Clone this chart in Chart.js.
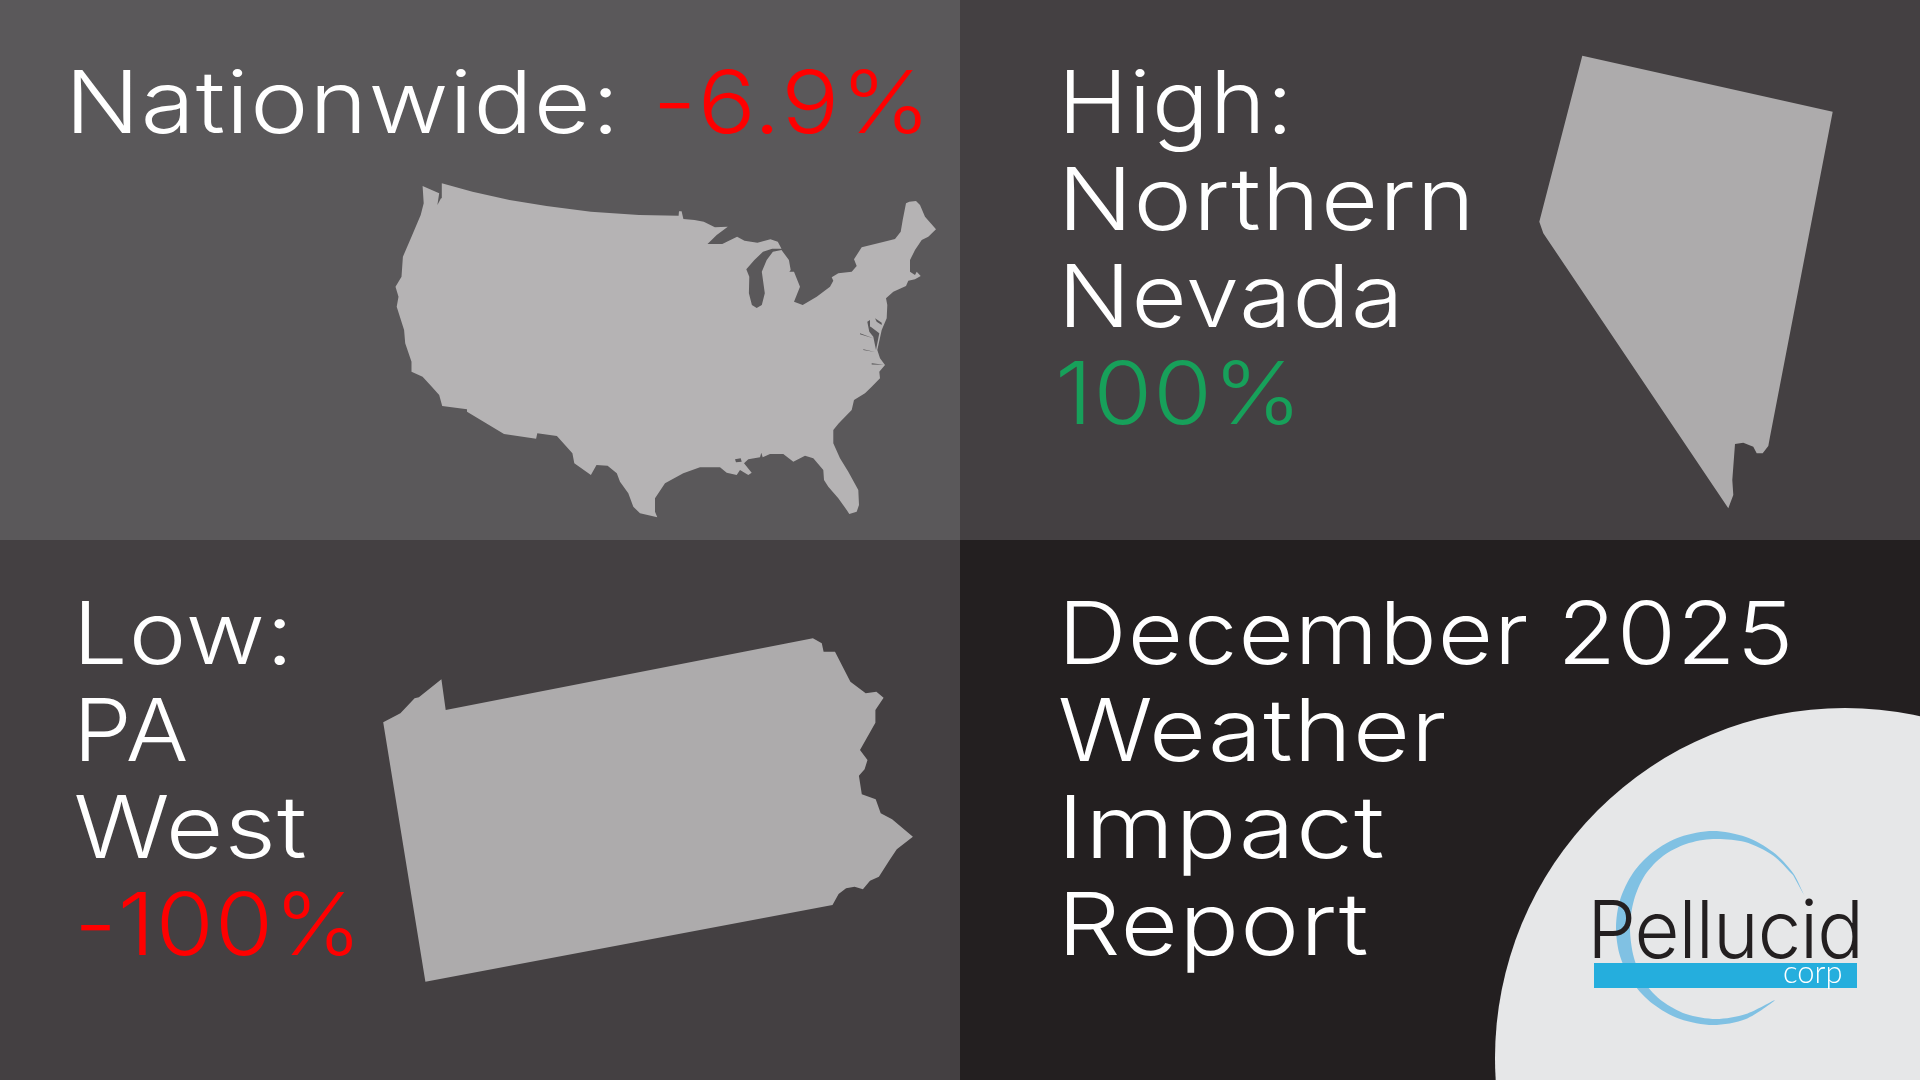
<!DOCTYPE html>
<html>
<head>
<meta charset="utf-8">
<title>December 2025 Weather Impact Report</title>
<script src="https://cdn.jsdelivr.net/npm/chart.js@4"></script>
<style>
  html, body { margin: 0; padding: 0; background: #231f20; }
  canvas { display: block; }
</style>
</head>
<body>
<canvas id="grafico" width="1920" height="1080"></canvas>
<script>
// values and texts
const nationalValue = -6.9;
const highValue = 100;
const lowValue = -100;

const nationalLabel = 'Nationwide:';
const highLabels = ['High:', 'Northern', 'Nevada'];
const lowLabels = ['Low:', 'PA', 'West'];
const titleLabels = ['December 2025', 'Weather', 'Impact', 'Report'];
const logoName = 'Pellucid';
const logoSub = 'corp';

// outlines, in the 1920x1080 units of the x and y scales
const usOutline = [
  [422.6,186],[430,189.3],[439.2,193.3],[437.4,205],[441,198.3],[441.8,183.3],[472.5,191.7],[509.5,200],
  [546.5,206],[590.9,211.7],[639,215],[678.6,215.7],[679,211.3],[681.6,211.3],[683.4,219],[694.5,220],
  [703.8,221.7],[714.9,227.3],[727.8,226.7],[716.7,235],[707.5,244],[722.3,244],[737.1,236.7],[744.5,240.7],
  [757.4,242.7],[770.4,239.3],[777.8,241.7],[781.5,248.7],[772.2,248.7],[763,251.7],[754.4,260],[746.3,269.3],
  [749.3,276.7],[748.9,293.3],[751.9,305],[756.7,308],[761.8,305],[764.8,293.3],[761.8,271.7],[766.7,260],
  [772.9,251.7],[781.5,250],[788.9,260],[790.7,270],[785,277.3],[788.3,271.7],[794,271.7],[800,286.7],
  [794,301.7],[802.7,305],[816.7,296.7],[830,286.7],[833.3,280.7],[831.7,277.3],[838.3,273.3],[851.7,271.7],
  [856.7,266],[854,259.3],[861.7,247.3],[880,242.7],[895,239],[900.7,231.7],[902.7,220],[906,203.3],
  [909.3,201.7],[916,201],[920,205],[925,216.7],[936,229.3],[928.3,236.7],[921.7,240],[915,250],
  [910,260],[910,271.7],[915,275],[916.7,271.7],[920.7,276],[915,279.3],[908.3,280.7],[906,286],
  [893.3,291.7],[886,298.3],[887.3,305],[886.7,318.3],[881.7,330],[877.3,350],[880,358.3],[885,365],
  [879.3,371.7],[880,378.3],[871.7,386.7],[865,393.3],[854,400],[851.7,410],[838.8,423.3],[833.3,430],
  [833.3,443.3],[840,458.3],[848.3,471.7],[858.3,490],[859,505],[856.7,511.7],[849.3,514],[846.7,510],
  [838.3,498.3],[828.3,486.7],[824,480],[823.3,470],[813.3,458.3],[805,455.7],[793.3,461.7],[783.3,454],
  [770,454],[762.7,457.3],[761.3,452.7],[760,457.3],[748.3,459.3],[744,463.3],[751.7,472.7],[748.3,475],
  [740,470],[736.7,475],[726.7,472.7],[720,467.3],[700,467.3],[683.3,473.3],[665,483.3],[655,498.3],
  [655,511.7],[657.3,517.3],[640,513.3],[633.3,506.7],[628.3,493.3],[620,481.7],[616.8,473.3],[607.6,465.7],
  [596.5,465],[590.9,475],[574.3,463.3],[572.4,453.3],[556.9,436],[537.3,433.3],[536.1,438.7],[504,434],
  [467,411.7],[467,409.3],[442.2,406],[439.2,395],[431.8,386.7],[422.6,376.7],[411.5,371.7],[411.5,361.7],
  [405.2,343.3],[404.1,330],[396.7,306.7],[398.5,296.7],[395.5,286.7],[401.5,276.7],[402.9,256.7],[411.5,236.7],
  [420.7,215],[423.7,203.3]
];
const chesapeake = [[867.3,321.7],[869.3,331.7],[873.3,336.7],[876,350],[879.3,333.3],[870.7,326.7],[870,320]];
const delawareBay = [[875,318.3],[881.7,322.7],[881.7,325],[876.7,321.7]];
const potomac = [[860,333.3],[873.3,338.3],[860,334.3]];
const rappahannock = [[863.3,349.3],[875,352],[863.3,350]];
const jamesRiver = [[871.7,363.3],[884,364.7],[871.7,364.5]];
const pontchartrain = [[735,459.3],[740.7,458.3],[741.7,461.7],[736,462.3]];
const nevadaOutline = [
  [1582.3,55.7],[1832.7,111.7],[1770,436.7],[1768.3,446],[1762.7,453.3],[1756.7,453.3],[1753.3,446.7],
  [1743.3,442.7],[1735,444],[1732.3,480],[1733.3,495],[1728.3,508.3],[1543.3,233.3],[1539.3,221.7]
];
const paOutline = [
  [383.2,722.3],[400.4,713.3],[414.6,698.3],[418.9,697.3],[441.4,679.3],[445.7,710],[812.9,638.3],[821.8,643.3],
  [823.6,651.7],[835,651.7],[850.4,681.7],[865.7,693.3],[876.4,691.7],[883.6,697.7],[875.4,710],[875.4,722.7],
  [860,750],[867.5,760],[864.6,769.3],[858.9,775.7],[861.8,794.3],[875.7,799.3],[880.7,813.3],[892.1,819.3],
  [912.9,836.7],[896.8,849.3],[889.6,860],[878.9,876.7],[870,880.7],[862.9,889.3],[854.6,886.7],[846.1,888.3],
  [838.6,894],[832.5,905],[425.4,981.7]
];
const crescent = [
  [1805,897],[1793,873],[1773,852],[1746,837],[1713,831],[1680,837],[1653,852],[1633,873],[1620,900],
  [1616,928],[1620,956],[1633,983],[1653,1004],[1680,1019],[1713,1025],[1746,1019],[1775,1000],
  [1746,1014],[1716,1019],[1686,1014],[1662,1001],[1645,983],[1634,958],[1630,928],[1634,900],[1645,875],
  [1663,856],[1686,844],[1713,839],[1745,842],[1773,855.5],[1793,875]
];
const logoBar = [[1594,963],[1857,963],[1857,988],[1594,988]];
const logoDisc = [[1845,1058]];

const panelTL = [[0,0],[960,0],[960,540],[0,540]];
const panelTR = [[960,0],[1920,0],[1920,540],[960,540]];
const panelBL = [[0,540],[960,540],[960,1080],[0,1080]];
const panelBR = [[960,540],[1920,540],[1920,1080],[960,1080]];

const WHITE = '#ffffff';
const RED = '#ff0000';
const GREEN = '#17a05a';
const FONT = '340 87px Inter';
const WATER = '#5a585a';

function forma(punti, colore, tension = 0) {
  return {
    data: punti.map(p => ({ x: p[0], y: p[1] })),
    showLine: true,
    fill: 'shape',
    backgroundColor: colore,
    borderColor: colore,
    borderWidth: 0,
    pointRadius: 0,
    tension: tension
  };
}

function percento(v) {
  return v + '%';
}

// text rows: x and x2 are the left and right ink edges, y the baseline
const righe = [
  { t: nationalLabel, x: 74, x2: 611, y: 133, c: WHITE },
  { t: percento(nationalValue), x: 659.5, x2: 921.5, y: 133, c: RED },
  { t: highLabels[0], x: 1066.7, x2: 1285, y: 133, c: WHITE },
  { t: highLabels[1], x: 1066.7, x2: 1466.7, y: 230, c: WHITE },
  { t: highLabels[2], x: 1066.7, x2: 1396, y: 327, c: WHITE },
  { t: percento(highValue), x: 1059.3, x2: 1292.7, y: 424, c: GREEN },
  { t: lowLabels[0], x: 81.7, x2: 285, y: 663.5, c: WHITE },
  { t: lowLabels[1], x: 81.7, x2: 186.7, y: 760.5, c: WHITE },
  { t: lowLabels[2], x: 75.7, x2: 305.7, y: 857.5, c: WHITE },
  { t: percento(lowValue), x: 80.7, x2: 352.7, y: 954.5, c: RED },
  { t: titleLabels[0], x: 1066.7, x2: 1788.3, y: 663.5, c: WHITE },
  { t: titleLabels[1], x: 1060, x2: 1445, y: 760.5, c: WHITE },
  { t: titleLabels[2], x: 1066.7, x2: 1383.3, y: 857.5, c: WHITE },
  { t: titleLabels[3], x: 1066.7, x2: 1367.3, y: 954.5, c: WHITE },
  { t: logoName, x: 1594, x2: 1858, y: 958, c: '#231f20', f: '300 80px Inter', s: '-1px' },
  { t: logoSub, x: 1784, x2: 1841, y: 983, c: WHITE, f: '300 32px Lato', s: '0px' }
];

const pluginTesti = {
  id: 'testi',
  afterDatasetsDraw(chart) {
    const { ctx, scales } = chart;
    ctx.save();
    ctx.textBaseline = 'alphabetic';
    righe.forEach(r => {
      ctx.save();
      ctx.font = r.f || FONT;
      ctx.letterSpacing = r.s || '1px';
      ctx.fillStyle = r.c;
      const m = ctx.measureText(r.t);
      const k = (r.x2 - r.x) / (m.actualBoundingBoxLeft + m.actualBoundingBoxRight);
      ctx.translate(scales.x.getPixelForValue(r.x) + m.actualBoundingBoxLeft * k, scales.y.getPixelForValue(r.y));
      ctx.scale(k, 1);
      ctx.fillText(r.t, 0, 0);
      ctx.restore();
    });
    ctx.restore();
  }
};

const ctx = document.getElementById('grafico').getContext('2d');
new Chart(ctx, {
  type: 'scatter',
  data: {
    // first dataset is drawn on top
    datasets: [
      forma(logoBar, '#25aedd'),
      forma(crescent, '#80c1e3', 0.3),
      {
        data: logoDisc.map(p => ({ x: p[0], y: p[1] })),
        showLine: false,
        pointRadius: 350,
        backgroundColor: '#e6e7e8',
        borderColor: '#e6e7e8',
        borderWidth: 0
      },
      forma(chesapeake, WATER),
      forma(delawareBay, WATER),
      forma(potomac, WATER),
      forma(rappahannock, WATER),
      forma(jamesRiver, WATER),
      forma(pontchartrain, WATER),
      forma(usOutline, '#b5b3b4'),
      forma(nevadaOutline, '#adabac'),
      forma(paOutline, '#adabac'),
      forma(panelTL, '#5a585a'),
      forma(panelTR, '#444042'),
      forma(panelBL, '#444042'),
      forma(panelBR, '#231f20')
    ]
  },
  options: {
    responsive: false,
    animation: false,
    events: [],
    layout: { padding: 0, autoPadding: false },
    plugins: { legend: { display: false }, tooltip: { enabled: false }, title: { display: false } },
    scales: {
      x: { type: 'linear', display: false, min: 0, max: 1920 },
      y: { type: 'linear', display: false, min: 0, max: 1080, reverse: true }
    }
  },
  plugins: [pluginTesti]
});
</script>
</body>
</html>
